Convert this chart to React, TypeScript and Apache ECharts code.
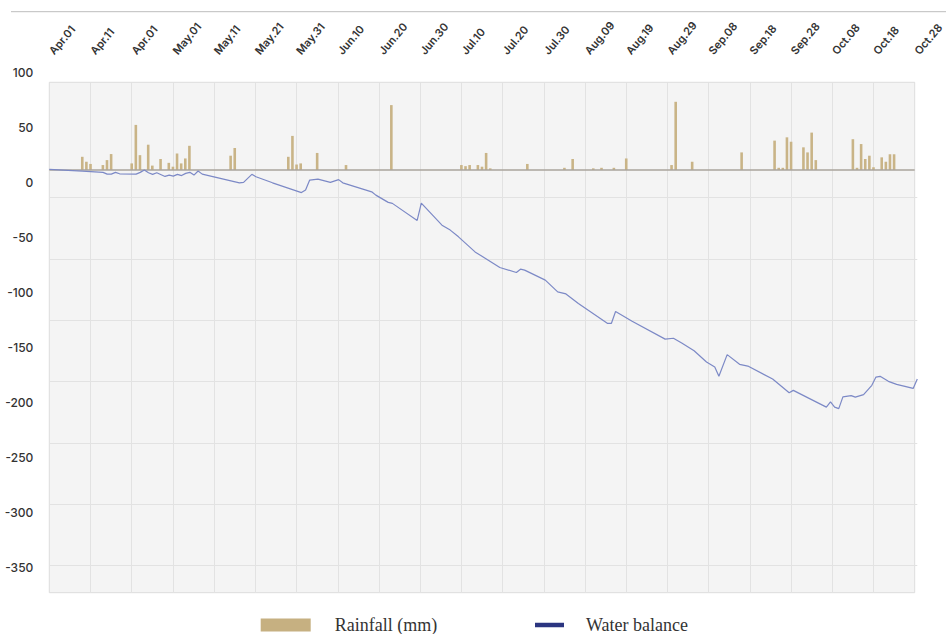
import React, { useEffect, useRef } from "react";
import * as echarts from "echarts";

const xLabels = [
  "Apr.01", "Apr.11", "Apr.01", "May.01", "May.11", "May.21", "May.31", "Jun.10",
  "Jun.20", "Jun.30", "Jul.10", "Jul.20", "Jul.30", "Aug.09", "Aug.19", "Aug.29",
  "Sep.08", "Sep.18", "Sep.28", "Oct.08", "Oct.18", "Oct.28",
];

const yLabelValues = { min: -350, max: 100, step: 50 };

// day index counted from Apr.01
const rainDays = [
  8, 9, 10, 13, 14, 15, 20, 21, 22, 24, 25, 27, 29, 30, 31, 32, 33, 34, 44, 45,
  58, 59, 60, 61, 65, 72, 83, 100, 101, 102, 104, 105, 106, 107, 116, 125, 127,
  132, 134, 137, 140, 151, 152, 156, 168, 176, 177, 178, 179, 180, 183, 184, 185,
  186, 195, 196, 197, 198, 199, 200, 202, 203, 204, 205,
];
const rainValues = [
  12, 7.5, 5.5, 4.5, 9, 14.5, 6, 41, 13.5, 23, 4, 10, 6.5, 3, 15, 6, 10.5, 22, 13, 20,
  12, 31, 5, 6, 15.5, 4.5, 59, 4.5, 3.5, 4.5, 4.5, 3, 15.5, 1.5, 5.5, 2, 10,
  1.5, 2, 2, 10.5, 4.5, 62, 7.5, 16, 26.7, 2, 2, 29.7, 25.7, 20.6, 16, 34,
  9, 28, 2, 23.6, 10, 13, 2.5, 11.5, 7.5, 14.3, 14.3,
];

const balanceDays = [
  0, 8, 13, 14, 15, 16, 17, 21, 22, 23, 24, 25, 26, 28, 29, 30, 31, 32, 33, 34, 35,
  36, 37, 46, 47, 49, 50, 54, 61, 62, 63, 65, 68, 70, 71, 78, 79, 82, 83, 89, 90,
  95, 97, 99, 103, 109, 113, 114, 115, 120, 123, 125, 128, 135, 136, 137, 141, 149,
  151, 153, 156, 159, 161, 162, 164, 167, 169, 175, 179, 180, 188, 189, 190, 191,
  192, 194, 195, 197, 199, 200, 201, 203, 205, 209, 210,
];
const balanceValues = [
  12.1, 10.6, 9.4, 7.8, 7.8, 9.4, 8.1, 7.8, 9.4, 11.5, 9.0, 7.6, 9.0, 5.7, 6.9, 6.0,
  7.6, 6.5, 8.5, 9.4, 6.9, 10.6, 7.8, -0.1, 0.3, 7.6, 5.4, -0.1, -9.0, -6.7, 2.4,
  3.3, 0.3, 2.8, -0.1, -8.3, -11.3, -17.9, -18.8, -34.3, -18.6, -38.6, -43.1,
  -49.2, -62.9, -77.1, -81.6, -78.6, -79.5, -88.6, -99.3, -101.1, -109.9, -127.8,
  -127.8, -117.1, -126.0, -142.2, -141.4, -145.7, -152.8, -163.0, -167.6, -176.0,
  -156.3, -165.1, -166.7, -178.5, -191.0, -188.8, -204.0, -199.2, -204.0, -205.4,
  -194.7, -193.6, -194.9, -192.7, -184.2, -176.7, -176.0, -180.6, -183.3, -187.0,
  -178.4,
];

const seriesNames = ["Rainfall (mm)", "Water balance"];

export default function App() {
  const ref = useRef<HTMLDivElement>(null);

  useEffect(() => {
    if (!ref.current) return;
    const chart = echarts.init(ref.current, undefined, { renderer: "svg" });
    const W = 946;
    const H = 634;
    const plotLeft = 49.3;
    const plotRight = W - 917.3;
    const plotTop = 82.3;
    const plotBottom = H - 592.7;
    const zeroY = 170;
    const pxPerUnit = 1.1;
    const plotH = H - plotBottom - plotTop;
    const rainMax = (zeroY - plotTop) / pxPerUnit;
    const rainMin = -(plotTop + plotH - zeroY) / pxPerUnit;
    const labelFont = "Inter, 'Noto Sans', sans-serif";

    chart.setOption({
      animation: false,
      grid: [
        {
          left: plotLeft, right: plotRight, top: plotTop, bottom: plotBottom,
          show: true, backgroundColor: "#f4f4f4", borderColor: "#dcdcdc", borderWidth: 1,
        },
        { left: plotLeft, right: plotRight, top: 197.7, bottom: H - 565.7 },
        { left: plotLeft, right: plotRight, top: 72.7, bottom: H - 567.7 },
      ],
      xAxis: [
        {
          gridIndex: 0, type: "value", position: "top", min: 0, max: 210, interval: 10,
          axisLine: { show: false }, axisTick: { show: false },
          splitLine: { show: true, lineStyle: { color: "#e2e2e2", width: 1 } },
          axisLabel: {
            rotate: 50, margin: 27, fontSize: 11, fontWeight: 600, color: "#333",
            fontFamily: labelFont, padding: [0, 0, 0, 3],
            formatter: (v: number) => xLabels[Math.round(v / 10)] ?? "",
          },
        },
        { gridIndex: 1, type: "value", min: 0, max: 210, show: false },
        { gridIndex: 2, type: "value", min: 0, max: 210, show: false },
      ],
      yAxis: [
        { gridIndex: 0, type: "value", min: rainMin, max: rainMax, show: false },
        {
          gridIndex: 1, type: "value", min: 0, max: 6, interval: 1,
          axisLine: { show: false }, axisTick: { show: false }, axisLabel: { show: false },
          splitLine: { show: true, lineStyle: { color: "#e2e2e2", width: 1 } },
        },
        {
          gridIndex: 2, type: "value", min: yLabelValues.min, max: yLabelValues.max,
          interval: yLabelValues.step,
          axisLine: { show: false }, axisTick: { show: false }, splitLine: { show: false },
          axisLabel: {
            margin: 16, fontSize: 12, fontWeight: 500, color: "#333", fontFamily: labelFont,
          },
        },
      ],
      legend: [
        {
          data: [{ name: seriesNames[0], icon: "rect", itemStyle: { color: "#c6b081" } }],
          left: 260.7, top: 616, padding: 0, itemWidth: 50, itemHeight: 13,
          selectedMode: false,
          textStyle: {
            fontFamily: "'Liberation Serif', 'DejaVu Serif', serif", fontSize: 18,
            color: "#333", padding: [0, 0, 0, 19], lineHeight: 18,
          },
        },
        {
          data: [{ name: seriesNames[1], icon: "rect", itemStyle: { color: "#2b3580" } }],
          left: 535, top: 616, padding: 0, itemWidth: 29, itemHeight: 4.5,
          selectedMode: false,
          textStyle: {
            fontFamily: "'Liberation Serif', 'DejaVu Serif', serif", fontSize: 18,
            color: "#333", padding: [0, 0, 0, 17], lineHeight: 18,
          },
        },
      ],
      graphic: [
        {
          type: "line", silent: true,
          shape: { x1: 11, y1: 11.7, x2: W, y2: 11.7 },
          style: { stroke: "#bdbdbd", lineWidth: 1 },
        },
      ],
      series: [
        {
          name: seriesNames[0], type: "bar", xAxisIndex: 0, yAxisIndex: 0,
          barWidth: 2.6, itemStyle: { color: "#c9b487" },
          data: rainDays.map((d, i) => [d, rainValues[i]]),
          markLine: {
            silent: true, symbol: "none", label: { show: false },
            lineStyle: { color: "#aaa49c", width: 1.5, type: "solid" },
            data: [{ yAxis: 0 }],
          },
        },
        {
          name: seriesNames[1], type: "line", xAxisIndex: 2, yAxisIndex: 2,
          showSymbol: false, symbol: "none", z: 5,
          lineStyle: { color: "#7c89c6", width: 1.2 },
          itemStyle: { color: "#7c89c6" },
          data: balanceDays.map((d, i) => [d, balanceValues[i]]),
        },
      ],
    });

    return () => chart.dispose();
  }, []);

  return (
    <div
      ref={ref}
      style={{ position: "fixed", left: 0, top: 0, width: 946, height: 634, background: "#fff" }}
    />
  );
}
